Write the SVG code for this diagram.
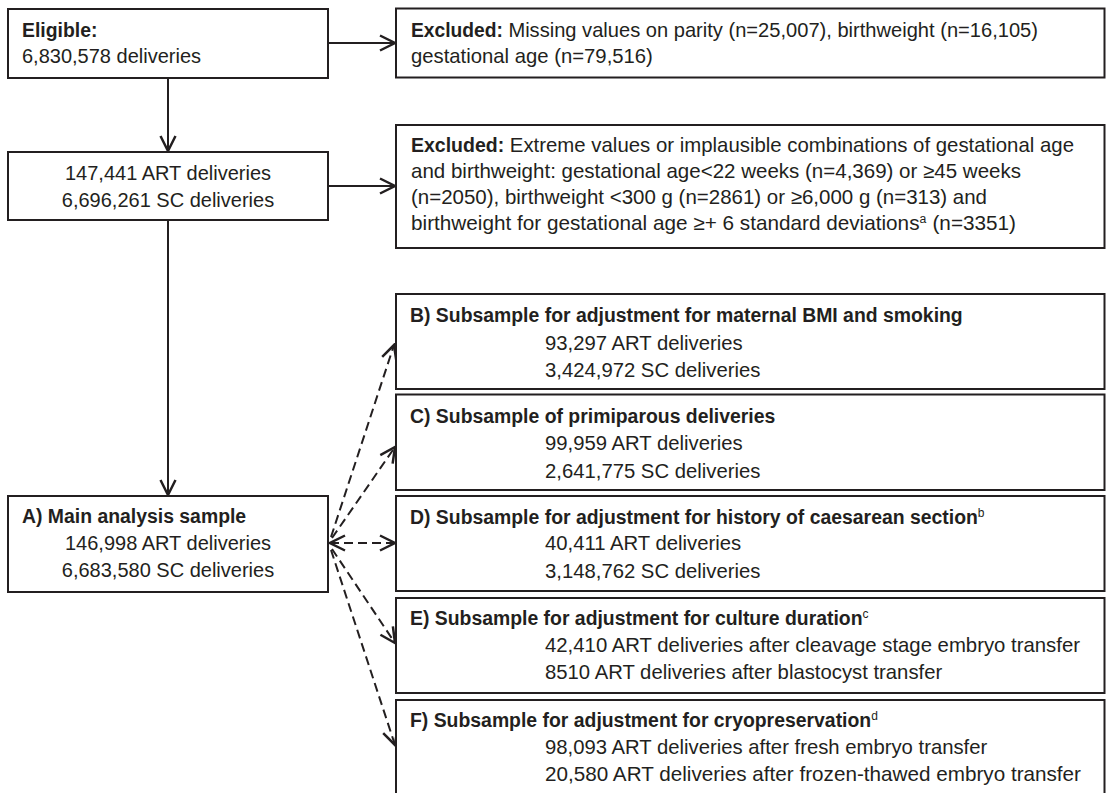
<svg xmlns="http://www.w3.org/2000/svg" width="1106" height="793" viewBox="0 0 1106 793">
<style>
.box{fill:#fff;stroke:#231f20;stroke-width:2}
text{font-family:"Liberation Sans",Arial,sans-serif;font-size:20px;fill:#231f20}
text.r{font-size:20.3px}
.b{font-weight:bold;font-size:19.4px}
.c{text-anchor:middle}
.sup{font-size:12px}
.conn{fill:none;stroke:#231f20;stroke-width:2}
.dash{stroke-dasharray:9 5}
</style>
<defs>
<marker id="arr" markerUnits="userSpaceOnUse" markerWidth="20" markerHeight="20" viewBox="-14 -8 16 16" refX="0" refY="0" orient="auto-start-reverse">
<path d="M-12,-6 L0,0 L-12,6" fill="none" stroke="#231f20" stroke-width="2" stroke-dasharray="none"/>
</marker>
</defs>
<rect width="1106" height="793" fill="#fff"/>
<g id="connectors">
<line class="conn" x1="328" y1="43" x2="395" y2="43" marker-end="url(#arr)"/>
<line class="conn" x1="168" y1="78" x2="168" y2="151" marker-end="url(#arr)"/>
<line class="conn" x1="328" y1="186" x2="395" y2="186" marker-end="url(#arr)"/>
<line class="conn" x1="168" y1="220" x2="168" y2="495" marker-end="url(#arr)"/>
<line class="conn dash" x1="331" y1="537" x2="394" y2="345" marker-end="url(#arr)"/>
<line class="conn dash" x1="332" y1="538" x2="395" y2="447" marker-end="url(#arr)"/>
<line class="conn dash" x1="330" y1="543" x2="395" y2="543" marker-start="url(#arr)" marker-end="url(#arr)"/>
<line class="conn dash" x1="332" y1="549" x2="395" y2="643" marker-end="url(#arr)"/>
<line class="conn dash" x1="331" y1="550" x2="395" y2="745" marker-end="url(#arr)"/>
</g>
<g id="eligible">
<rect class="box" x="8" y="9" width="320" height="69"/>
<text x="22" y="37" class="b">Eligible:</text>
<text x="22" y="63">6,830,578 deliveries</text>
</g>
<g id="excluded1">
<rect class="box" x="396" y="8.5" width="708.5" height="69"/>
<text x="411" y="37" class="r" textLength="627" lengthAdjust="spacingAndGlyphs"><tspan class="b">Excluded:</tspan> Missing values on parity (n=25,007), birthweight (n=16,105)</text>
<text x="411" y="63" class="r">gestational age (n=79,516)</text>
</g>
<g id="after-exclusion1">
<rect class="box" x="8" y="152" width="320" height="68"/>
<text x="168" y="180" class="c">147,441 ART deliveries</text>
<text x="168" y="207" class="c">6,696,261 SC deliveries</text>
</g>
<g id="excluded2">
<rect class="box" x="396" y="125" width="708.5" height="123"/>
<text x="411" y="152" class="r" textLength="663" lengthAdjust="spacingAndGlyphs"><tspan class="b">Excluded:</tspan> Extreme values or implausible combinations of gestational age</text>
<text x="411" y="178" class="r" textLength="610" lengthAdjust="spacingAndGlyphs">and birthweight: gestational age&lt;22 weeks (n=4,369) or ≥45 weeks</text>
<text x="411" y="204" class="r" textLength="576" lengthAdjust="spacingAndGlyphs">(n=2050), birthweight &lt;300 g (n=2861) or ≥6,000 g (n=313) and</text>
<text x="411" y="230" class="r" textLength="605" lengthAdjust="spacingAndGlyphs">birthweight for gestational age ≥+ 6 standard deviations<tspan class="sup" dy="-7">a</tspan><tspan dy="7" dx="6">(n=3351)</tspan></text>
</g>
<g id="main-sample">
<rect class="box" x="8" y="496" width="320" height="96"/>
<text x="22" y="523" class="b">A) Main analysis sample</text>
<text x="168" y="550" class="c">146,998 ART deliveries</text>
<text x="168" y="577" class="c">6,683,580 SC deliveries</text>
</g>
<g id="subsample-b">
<rect class="box" x="396" y="294" width="708.5" height="95"/>
<text x="410" y="322" class="b">B) Subsample for adjustment for maternal BMI and smoking</text>
<text x="545" y="350" class="r">93,297 ART deliveries</text>
<text x="545" y="377" class="r">3,424,972 SC deliveries</text>
</g>
<g id="subsample-c">
<rect class="box" x="396" y="394.5" width="708.5" height="95.5"/>
<text x="410" y="423" class="b">C) Subsample of primiparous deliveries</text>
<text x="545" y="450" class="r">99,959 ART deliveries</text>
<text x="545" y="478" class="r">2,641,775 SC deliveries</text>
</g>
<g id="subsample-d">
<rect class="box" x="396" y="496" width="708.5" height="95"/>
<text x="410" y="524"><tspan class="b">D) Subsample for adjustment for history of caesarean section</tspan><tspan class="sup" dy="-7">b</tspan></text>
<text x="545" y="550" class="r">40,411 ART deliveries</text>
<text x="545" y="578" class="r">3,148,762 SC deliveries</text>
</g>
<g id="subsample-e">
<rect class="box" x="396" y="598" width="708.5" height="95"/>
<text x="410" y="625"><tspan class="b">E) Subsample for adjustment for culture duration</tspan><tspan class="sup" dy="-7">c</tspan></text>
<text x="545" y="652" class="r" textLength="535" lengthAdjust="spacingAndGlyphs">42,410 ART deliveries after cleavage stage embryo transfer</text>
<text x="545" y="679" class="r">8510 ART deliveries after blastocyst transfer</text>
</g>
<g id="subsample-f">
<rect class="box" x="396" y="700" width="708.5" height="110"/>
<text x="410" y="727"><tspan class="b">F) Subsample for adjustment for cryopreservation</tspan><tspan class="sup" dy="-7">d</tspan></text>
<text x="545" y="754" class="r">98,093 ART deliveries after fresh embryo transfer</text>
<text x="545" y="781" class="r" textLength="536" lengthAdjust="spacingAndGlyphs">20,580 ART deliveries after frozen-thawed embryo transfer</text>
</g>
</svg>
